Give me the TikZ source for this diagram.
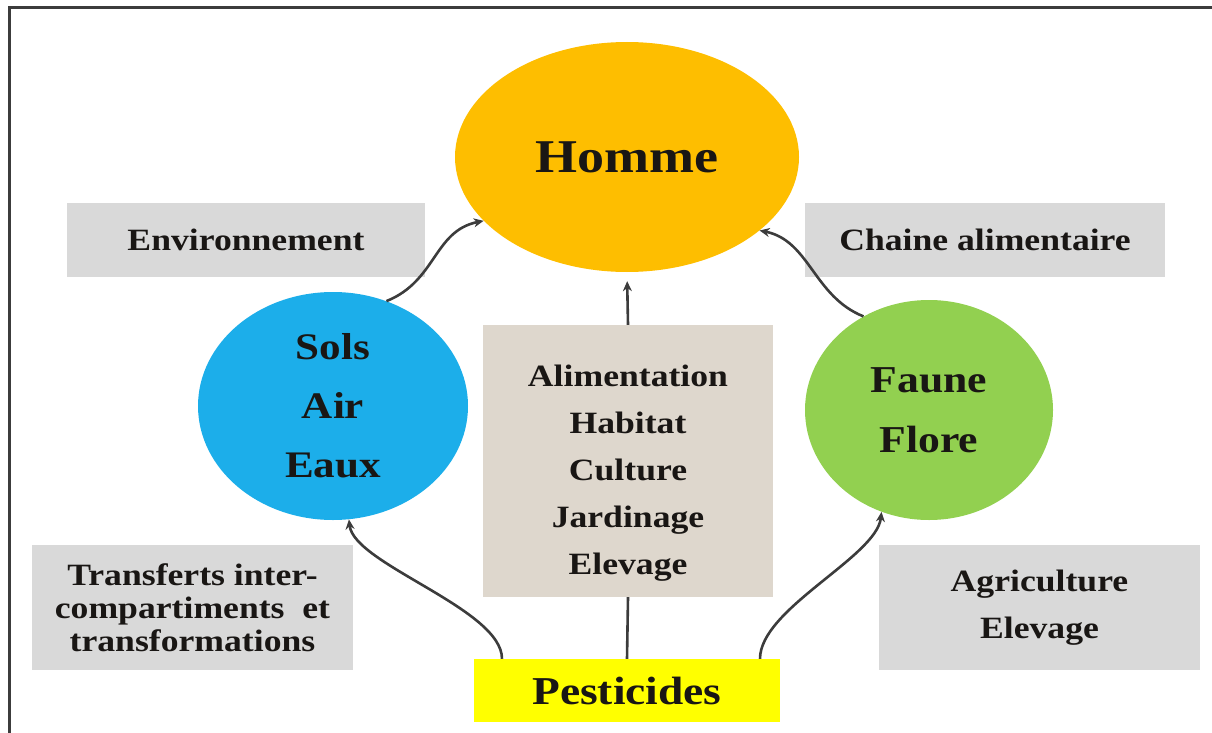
\documentclass[tikz,border=0pt]{standalone}
\usepackage{fontspec}
\setmainfont{Liberation Serif}[FakeStretch=1.15]
\usetikzlibrary{shapes.geometric, arrows.meta}
\definecolor{hommeor}{RGB}{254,190,0}
\definecolor{milieubleu}{RGB}{28,174,234}
\definecolor{vivantvert}{RGB}{146,208,80}
\definecolor{etiqgris}{RGB}{217,217,217}
\definecolor{usagebeige}{RGB}{222,215,205}
\definecolor{pestjaune}{RGB}{255,255,0}
\definecolor{traitgris}{RGB}{60,60,60}
\definecolor{encre}{RGB}{25,22,20}

\begin{document}
\begin{tikzpicture}[x=1pt, y=-1pt,
  blob/.style={ellipse, inner sep=0pt, align=center, text=encre},
  tagbox/.style={fill=etiqgris, inner sep=0pt, minimum height=74pt, align=center,
    text=encre, font=\bfseries\fontsize{31}{47}\selectfont},
  link/.style={line width=2.6pt, draw=traitgris, -{Stealth[length=10pt, width=9pt]}},
  plainlink/.style={line width=2.6pt, draw=traitgris}]
  % Cadre et marges
  \useasboundingbox (0,0) rectangle (1212,733);
  \draw[line width=3pt, traitgris] (9,733) -- (9,8) -- (1212,8);
  % Etiquettes grises
  \node[tagbox, minimum width=358pt] (envir) at (246,240) {Environnement};
  \node[tagbox, minimum width=360pt] (chaine) at (985,240) {Chaine alimentaire};
  \node[tagbox, minimum width=321pt, minimum height=125pt,
    font=\bfseries\fontsize{31}{33}\selectfont] (transf) at (192.5,607.5)
    {Transferts inter-\\compartiments\ \ et\\transformations};
  \node[tagbox, minimum width=321pt, minimum height=125pt] (agri) at (1039.5,607.5)
    {Agriculture\\Elevage};
  % Compartiments
  \node[blob, fill=hommeor, minimum width=344pt, minimum height=230pt,
    font=\bfseries\fontsize{47}{56}\selectfont] (homme) at (627,157) {Homme};
  \node[blob, fill=milieubleu, minimum width=270pt, minimum height=228pt,
    font=\bfseries\fontsize{37.5}{59}\selectfont] (milieu) at (333,406) {Sols\\Air\\Eaux};
  \node[blob, fill=vivantvert, minimum width=248pt, minimum height=220pt,
    font=\bfseries\fontsize{38}{60}\selectfont] (vivant) at (929,410) {Faune\\Flore};
  \node[fill=usagebeige, minimum width=290pt, minimum height=272pt, inner sep=0pt,
    text=encre, font=\bfseries\fontsize{31}{47}\selectfont] (usage) at (628,461)
    {\raisebox{-10pt}[\height][\depth]{\begin{tabular}{@{}c@{}}Alimentation\\Habitat\\Culture\\Jardinage\\Elevage\end{tabular}}};
  \node[fill=pestjaune, minimum width=306pt, minimum height=63pt, inner sep=0pt,
    text=encre, font=\bfseries\fontsize{39.5}{47}\selectfont] (pest) at (627,690.5) {Pesticides};
  % Transferts vers l'Homme
  \draw[link] (milieu.63) .. controls +(50,-20) and +(-50,10) .. (homme.204);
  \draw[link] (vivant.125) .. controls +(-50,-20) and +(50,10) .. (homme.331);
  \draw[link, shorten >=9pt] (usage.north) -- (homme.south);
  % Depuis les pesticides
  \draw[plainlink] (pest.north) -- (usage.south);
  \draw[link] ([xshift=-125pt]pest.north) .. controls +(0,-50) and +(5,45) .. (milieu.278);
  \draw[link] ([xshift=133pt]pest.north) .. controls +(0,-50) and +(-5,45) .. (vivant.245);
\end{tikzpicture}
\end{document}
